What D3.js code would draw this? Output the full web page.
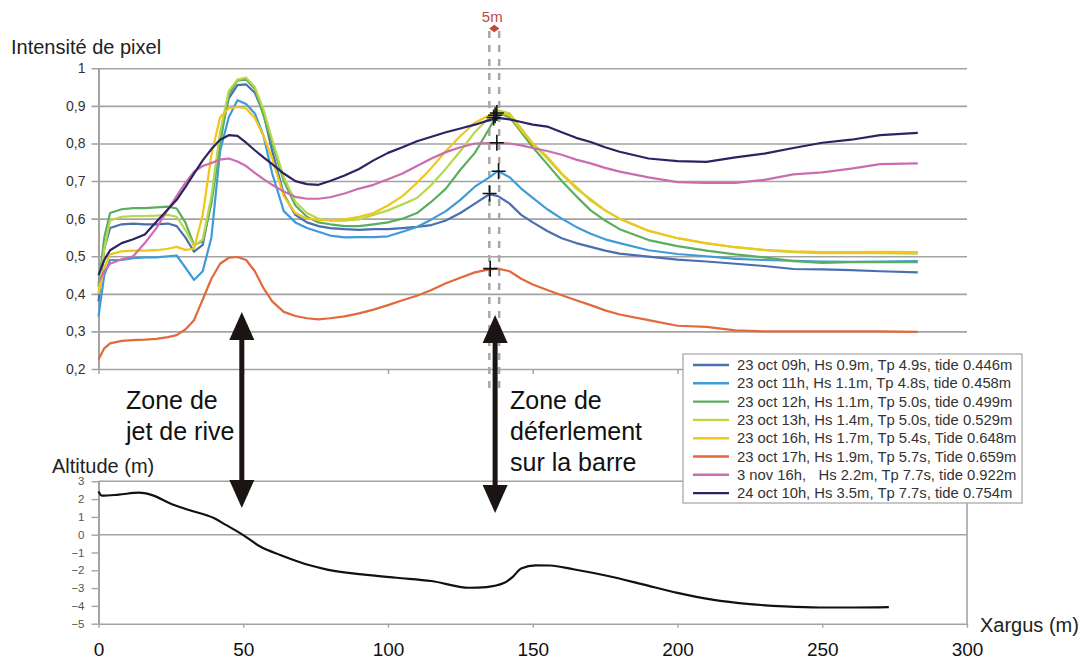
<!DOCTYPE html>
<html>
<head>
<meta charset="utf-8">
<script src="https://cdn.jsdelivr.net/npm/d3@7"></script>
<style>
  body { margin: 0; background: #fff; }
  svg { display: block; }
  text { font-family: "Liberation Sans", Arial, sans-serif; }
</style>
</head>
<body>
<div id="chart"></div>
<script>
// position along the argus profile (m), top panel samples
const xargus = [0, 2, 4, 8, 12, 16, 20, 24, 27, 30, 33, 36, 39, 42, 45, 48,
  51, 54, 57, 60, 64, 68, 72, 76, 80, 85, 90, 95, 100, 105, 110, 115,
  120, 125, 130, 135, 138, 142, 146, 150, 155, 160, 165, 170, 175, 180, 190, 200,
  210, 220, 230, 240, 250, 260, 270, 283]

// pixel intensity, one array per acquisition
const oct23h09 = [0.38, 0.52, 0.575, 0.585, 0.587, 0.585, 0.585, 0.587, 0.58, 0.55, 0.512, 0.53, 0.65, 0.82, 0.92, 0.955,
  0.957, 0.935, 0.88, 0.78, 0.665, 0.61, 0.59, 0.58, 0.575, 0.572, 0.57, 0.572, 0.572, 0.575, 0.578, 0.583,
  0.595, 0.615, 0.64, 0.665, 0.66, 0.64, 0.61, 0.59, 0.567, 0.548, 0.535, 0.525, 0.515, 0.507, 0.499, 0.491,
  0.486, 0.48, 0.474, 0.466, 0.465, 0.463, 0.46, 0.457]
const oct23h11 = [0.34, 0.45, 0.49, 0.49, 0.495, 0.497, 0.497, 0.5, 0.502, 0.47, 0.437, 0.46, 0.55, 0.78, 0.87, 0.915,
  0.905, 0.88, 0.82, 0.72, 0.62, 0.59, 0.575, 0.565, 0.555, 0.55, 0.551, 0.551, 0.553, 0.565, 0.578, 0.598,
  0.62, 0.65, 0.685, 0.71, 0.727, 0.71, 0.68, 0.655, 0.625, 0.6, 0.578, 0.56, 0.545, 0.535, 0.516, 0.506,
  0.5, 0.493, 0.49, 0.488, 0.486, 0.485, 0.486, 0.487]
const oct23h12 = [0.42, 0.55, 0.615, 0.625, 0.628, 0.628, 0.63, 0.632, 0.627, 0.59, 0.53, 0.54, 0.64, 0.8, 0.93, 0.968,
  0.97, 0.945, 0.875, 0.8, 0.7, 0.635, 0.605, 0.59, 0.585, 0.58, 0.58, 0.585, 0.59, 0.6, 0.615, 0.645,
  0.68, 0.73, 0.775, 0.84, 0.882, 0.87, 0.83, 0.79, 0.745, 0.7, 0.66, 0.622, 0.595, 0.572, 0.543, 0.527,
  0.515, 0.505, 0.497, 0.487, 0.482, 0.484, 0.484, 0.484]
const oct23h13 = [0.4, 0.52, 0.595, 0.605, 0.607, 0.607, 0.608, 0.61, 0.605, 0.57, 0.527, 0.545, 0.66, 0.83, 0.94, 0.97,
  0.975, 0.95, 0.89, 0.81, 0.71, 0.645, 0.615, 0.6, 0.595, 0.595, 0.598, 0.61, 0.622, 0.638, 0.655, 0.69,
  0.733, 0.78, 0.83, 0.87, 0.888, 0.88, 0.84, 0.8, 0.76, 0.718, 0.68, 0.652, 0.622, 0.6, 0.567, 0.548,
  0.534, 0.524, 0.516, 0.511, 0.508, 0.508, 0.508, 0.507]
const oct23h16 = [0.4, 0.47, 0.505, 0.513, 0.515, 0.515, 0.516, 0.52, 0.525, 0.517, 0.52, 0.61, 0.77, 0.87, 0.893, 0.897,
  0.893, 0.868, 0.82, 0.76, 0.66, 0.615, 0.6, 0.597, 0.596, 0.598, 0.605, 0.615, 0.635, 0.66, 0.695, 0.735,
  0.78, 0.82, 0.855, 0.875, 0.885, 0.875, 0.835, 0.8, 0.765, 0.72, 0.685, 0.648, 0.622, 0.6, 0.568, 0.548,
  0.535, 0.524, 0.517, 0.513, 0.511, 0.511, 0.512, 0.511]
const oct23h17 = [0.225, 0.255, 0.268, 0.275, 0.277, 0.278, 0.28, 0.285, 0.29, 0.305, 0.33, 0.385, 0.44, 0.48, 0.496, 0.498,
  0.49, 0.46, 0.415, 0.38, 0.352, 0.341, 0.335, 0.332, 0.335, 0.34, 0.348, 0.358, 0.37, 0.383, 0.395, 0.41,
  0.428, 0.443, 0.457, 0.465, 0.467, 0.46, 0.44, 0.425, 0.41, 0.396, 0.383, 0.37, 0.356, 0.345, 0.33, 0.315,
  0.312, 0.303, 0.3, 0.3, 0.3, 0.3, 0.3, 0.299]
const nov3h16 = [0.43, 0.46, 0.48, 0.492, 0.5, 0.535, 0.575, 0.625, 0.66, 0.695, 0.725, 0.74, 0.748, 0.757, 0.76, 0.752,
  0.74, 0.722, 0.705, 0.69, 0.672, 0.658, 0.653, 0.653, 0.657, 0.667, 0.68, 0.69, 0.705, 0.72, 0.74, 0.76,
  0.777, 0.79, 0.8, 0.801, 0.801, 0.8, 0.795, 0.788, 0.78, 0.77, 0.757, 0.747, 0.735, 0.725, 0.71, 0.697,
  0.695, 0.695, 0.703, 0.718, 0.723, 0.733, 0.745, 0.747]
const oct24h10 = [0.45, 0.49, 0.516, 0.535, 0.545, 0.558, 0.592, 0.625, 0.65, 0.684, 0.72, 0.755, 0.785, 0.81, 0.822, 0.82,
  0.802, 0.782, 0.763, 0.745, 0.72, 0.7, 0.692, 0.69, 0.7, 0.715, 0.732, 0.755, 0.775, 0.79, 0.806, 0.818,
  0.83, 0.84, 0.85, 0.862, 0.868, 0.864, 0.857, 0.85, 0.845, 0.83, 0.815, 0.804, 0.79, 0.778, 0.76, 0.753,
  0.751, 0.763, 0.773, 0.788, 0.802, 0.81, 0.822, 0.828]

const seriesLabels = [
  '23 oct 09h, Hs 0.9m, Tp 4.9s, tide 0.446m',
  '23 oct 11h, Hs 1.1m, Tp 4.8s, tide 0.458m',
  '23 oct 12h, Hs 1.1m, Tp 5.0s, tide 0.499m',
  '23 oct 13h, Hs 1.4m, Tp 5.0s, tide 0.529m',
  '23 oct 16h, Hs 1.7m, Tp 5.4s, Tide 0.648m',
  '23 oct 17h, Hs 1.9m, Tp 5.7s, Tide 0.659m',
  '3 nov 16h,\u00a0\u00a0\u00a0Hs 2.2m, Tp 7.7s, tide 0.922m',
  '24 oct 10h, Hs 3.5m, Tp 7.7s, tide 0.754m'
]
const seriesValues = [oct23h09, oct23h11, oct23h12, oct23h13, oct23h16, oct23h17, nov3h16, oct24h10]
const seriesColors = ['#4a6fb0', '#3f9bd8', '#5aaf5e', '#b8d84c', '#f0c619', '#e2693b', '#cc6cb0', '#2d2363']

// intensity maxima picked on the bar (m, intensity)
const peakX = [137.6, 136.5, 137.0, 137.6, 138.2, 135.1, 135.3]
const peakY = [0.881, 0.869, 0.875, 0.802, 0.726, 0.667, 0.467]

// beach profile, lower panel
const profileX = [0, 1.2, 7, 14, 18, 25, 31, 40, 44, 50, 56, 63, 73, 79, 91, 103, 115, 128, 134, 140,
  143, 146, 151, 156, 164, 176, 188, 200, 212, 225, 237, 249, 261, 273]
const profileZ = [2.43, 2.19, 2.25, 2.36, 2.25, 1.74, 1.4, 0.92, 0.55, -0.02, -0.68, -1.15, -1.72, -1.96, -2.23, -2.42, -2.6, -2.98, -2.94, -2.72,
  -2.38, -1.9, -1.72, -1.73, -1.94, -2.32, -2.79, -3.27, -3.65, -3.9, -4.03, -4.09, -4.09, -4.07]

const intensityTicks = [0.2, 0.3, 0.4, 0.5, 0.6, 0.7, 0.8, 0.9, 1]
const intensityLabels = ['0,2', '0,3', '0,4', '0,5', '0,6', '0,7', '0,8', '0,9', '1']
const altitudeTicks = [-5, -4, -3, -2, -1, 0, 1, 2, 3]
const altitudeGrid = [3, 0]
const xargusTicks = [0, 50, 100, 150, 200, 250, 300]
const barMarks = [135, 138.4]   // the two dashed lines, 5 m apart

const W = 1087, H = 661
const svg = d3.select('#chart').append('svg').attr('width', W).attr('height', H)

const x = d3.scaleLinear().domain([0, 300]).range([98.5, 967])
const yTop = d3.scaleLinear().domain([0.2, 1]).range([369, 68.3])
const yBot = d3.scaleLinear().domain([-5, 3]).range([623.7, 481.3])
const plotW = x(300) - x(0)

const grey = '#a3a3a3'

// ---------- top panel ----------
const topAxis = svg.append('g')
  .attr('transform', `translate(${x(0)},0)`)
  .call(d3.axisLeft(yTop).tickValues(intensityTicks).tickSize(-plotW).tickSizeOuter(0)
    .tickFormat((d, i) => intensityLabels[i]))
topAxis.select('.domain').attr('stroke', grey).attr('stroke-width', 2)
topAxis.selectAll('.tick line').attr('x1', -7).attr('stroke', grey).attr('stroke-width', 1.6)
topAxis.selectAll('.tick text').attr('x', -13).attr('font-size', 14).attr('fill', '#333')
  .attr('font-family', '"Liberation Sans", Arial, sans-serif')

const topX = svg.append('g')
  .attr('transform', `translate(0,${yTop(0.2)})`)
  .call(d3.axisBottom(x).tickValues(xargusTicks).tickSize(5).tickFormat(''))
topX.select('.domain').remove()
topX.selectAll('.tick line').attr('stroke', grey).attr('stroke-width', 1.5)

svg.append('text').attr('x', 11).attr('y', 54).attr('font-size', 20).attr('fill', '#222')
  .text('Intensité de pixel')

// dashed bar markers
svg.append('g').selectAll('line').data(barMarks).join('line')
  .attr('x1', d => x(d)).attr('x2', d => x(d))
  .attr('y1', 31).attr('y2', 390)
  .attr('stroke', '#a8a8a8').attr('stroke-width', 2.5).attr('stroke-dasharray', '7,7')

const line = d3.line().x((d, i) => x(xargus[i])).y(d => yTop(d))
svg.append('g').selectAll('path').data(seriesValues).join('path')
  .attr('d', d => line(d))
  .attr('fill', 'none')
  .attr('stroke', (d, i) => seriesColors[i])
  .attr('stroke-width', 2.2)
  .attr('stroke-linejoin', 'round')

svg.append('g').selectAll('path').data(peakX).join('path')
  .attr('transform', (d, i) => `translate(${x(d)},${yTop(peakY[i])})`)
  .attr('d', 'M-7,0H7M0,-8V8')
  .attr('stroke', '#111').attr('stroke-width', 1.6)

// 5 m scale mark
const red = '#c0493f'
const mx0 = x(barMarks[0]), mx1 = x(barMarks[1])
svg.append('text').attr('x', (mx0 + mx1) / 2 - 2).attr('y', 22).attr('text-anchor', 'middle')
  .attr('font-size', 15).attr('fill', red).text('5m')
svg.append('path')
  .attr('d', `M${mx0 + 1},28.5H${mx1 - 1}M${mx0 + 1},28.5l3.5,-2.5v5zM${mx1 - 1},28.5l-3.5,-2.5v5z`)
  .attr('stroke', red).attr('stroke-width', 1.5).attr('fill', red)

// ---------- bottom panel ----------
svg.append('g').selectAll('line').data(altitudeGrid).join('line')
  .attr('x1', x(0)).attr('x2', x(300))
  .attr('y1', d => yBot(d)).attr('y2', d => yBot(d))
  .attr('stroke', grey).attr('stroke-width', 1.6)
svg.append('line').attr('x1', x(300)).attr('x2', x(300)).attr('y1', yBot(3)).attr('y2', yBot(-5))
  .attr('stroke', grey).attr('stroke-width', 1.6)

const botY = svg.append('g')
  .attr('transform', `translate(${x(0)},0)`)
  .call(d3.axisLeft(yBot).tickValues(altitudeTicks).tickSize(7).tickSizeOuter(0))
botY.select('.domain').attr('stroke', grey).attr('stroke-width', 2)
botY.selectAll('.tick line').attr('stroke', grey).attr('stroke-width', 1.4)
botY.selectAll('.tick text').attr('x', -14).attr('font-size', 11.5).attr('fill', '#555')
  .attr('font-family', '"Liberation Sans", Arial, sans-serif')

const botX = svg.append('g')
  .attr('transform', `translate(0,${yBot(-5)})`)
  .call(d3.axisBottom(x).tickValues(xargusTicks).tickSize(4).tickSizeOuter(0))
botX.select('.domain').attr('stroke', grey).attr('stroke-width', 1.6)
botX.selectAll('.tick line').attr('stroke', grey).attr('stroke-width', 1.4)
botX.selectAll('.tick text').attr('y', 32).attr('dy', 0).attr('font-size', 19).attr('fill', '#111')
  .attr('font-family', '"Liberation Sans", Arial, sans-serif')

svg.append('text').attr('x', 52).attr('y', 473).attr('font-size', 20).attr('fill', '#222')
  .text('Altitude (m)')
svg.append('text').attr('x', 980).attr('y', 632).attr('font-size', 20).attr('fill', '#222')
  .text('Xargus (m)')

svg.append('path')
  .attr('d', d3.line().x((d, i) => x(profileX[i])).y(d => yBot(d)).curve(d3.curveMonotoneX)(profileZ))
  .attr('fill', 'none').attr('stroke', '#111').attr('stroke-width', 2.2)

// ---------- zone arrows and labels ----------
function arrow(cx, yTopTip, yBotTip) {
  const g = svg.append('g').attr('fill', '#1a1512')
  g.append('rect').attr('x', cx - 2.5).attr('y', yTopTip + 20).attr('width', 5).attr('height', yBotTip - yTopTip - 40)
  g.append('path').attr('d', `M${cx},${yTopTip}l12.5,28h-25z`)
  g.append('path').attr('d', `M${cx},${yBotTip}l12.5,-28h-25z`)
}
arrow(x(49.5), 312, 508)
arrow(x(137), 315, 513)

const zoneFont = 25
svg.append('text').attr('font-size', zoneFont).attr('fill', '#111')
  .selectAll('tspan').data(['Zone de', 'jet de rive']).join('tspan')
  .attr('x', 126).attr('y', (d, i) => 409 + i * 31).text(d => d)
svg.append('text').attr('font-size', zoneFont).attr('fill', '#111')
  .selectAll('tspan').data(['Zone de', 'déferlement', 'sur la barre']).join('tspan')
  .attr('x', 510).attr('y', (d, i) => 409 + i * 31).text(d => d)

// ---------- legend ----------
const legend = svg.append('g').attr('transform', 'translate(683,354)')
legend.append('rect').attr('width', 339).attr('height', 149)
  .attr('fill', '#fff').attr('stroke', '#aaa').attr('stroke-width', 1.3)
const rows = legend.selectAll('g.row').data(seriesLabels).join('g')
  .attr('class', 'row')
  .attr('transform', (d, i) => `translate(0,${11 + i * 18.3})`)
rows.append('line').attr('x1', 10).attr('x2', 46)
  .attr('stroke', (d, i) => seriesColors[i]).attr('stroke-width', 2.4)
rows.append('text').attr('x', 54).attr('y', 5).attr('font-size', 14.8).attr('fill', '#333')
  .text(d => d)
</script>
</body>
</html>
